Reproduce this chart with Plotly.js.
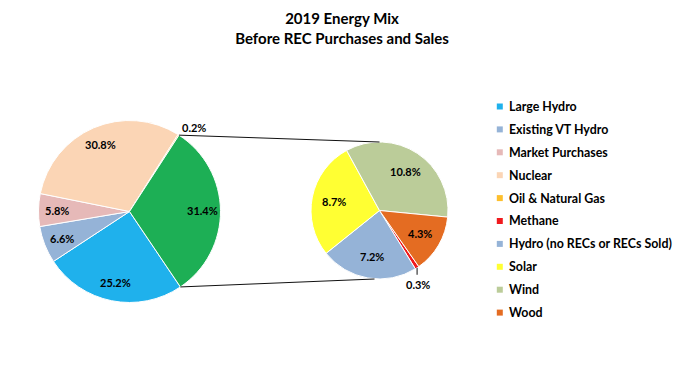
<!DOCTYPE html>
<html><head><meta charset="utf-8">
<script src="https://cdn.plot.ly/plotly-3.0.1.min.js"></script>
<style>html,body{margin:0;padding:0;background:#fff}</style>
</head><body>
<div id="chart" style="width:685px;height:371px"></div>
<script>
// ---- data ----
const mainLabels = ['Large Hydro','Existing VT Hydro','Market Purchases','Nuclear','Oil & Natural Gas','Other (see right)'];
const mainValues = [25.2, 6.6, 5.8, 30.8, 0.2, 31.4];
const mainColors = ['#1FB1EC','#95B3D7','#E6B9B8','#FBD5B5','#FDBF2D','#1DAF55'];
const subLabels = ['Methane','Hydro (no RECs or RECs Sold)','Solar','Wind','Wood'];
const subValues = [0.3, 7.2, 8.7, 10.8, 4.3];
const subColors = ['#F01A1E','#95B3D7','#FFFF33','#BBCC99','#E46C22'];
const legendLabels = mainLabels.slice(0,5).concat(subLabels);
const legendColors = mainColors.slice(0,5).concat(subColors);

// ---- geometry (pixels) ----
const W = 685, H = 371;
const P1 = {cx:129.5, cy:211.5, r:91, rot:146, lab:0.8};
const P2 = {cx:379.5, cy:210.5, r:68.5, rot:145, lab:0.68};
const px = x => x / W, py = y => 1 - y / H;
const dom = p => ({x:[px(p.cx - p.r), px(p.cx + p.r)], y:[py(p.cy + p.r), py(p.cy - p.r)]});
const sum = a => a.reduce((s, v) => s + v, 0);
function sliceAngle(vals, i, frac, rot) { // clockwise degrees from 12 o'clock
  const tot = sum(vals); let c = 0;
  for (let k = 0; k < i; k++) c += vals[k];
  return rot + (c + vals[i] * frac) / tot * 360;
}
function edgePt(p, ang, rr) {
  const a = ang * Math.PI / 180, r = rr === undefined ? p.r : rr;
  return [p.cx + r * Math.sin(a), p.cy - r * Math.cos(a)];
}
const fmt = v => v.toFixed(1) + '%';
const smallMain = 4, smallSub = 0; // tiny slices labelled outside

const labelFont = {family:'Lato', size:11, color:'#000', weight:'bold'};

const traces = [
  {type:'pie', labels:mainLabels, values:mainValues, sort:false, direction:'clockwise', rotation:P1.rot,
   marker:{colors:mainColors, line:{color:'#fff', width:1}}, textinfo:'none',
   domain:dom(P1), showlegend:false, hoverinfo:'label+value'},
  {type:'pie', labels:subLabels, values:subValues, sort:false, direction:'clockwise', rotation:P2.rot,
   marker:{colors:subColors, line:{color:'#fff', width:1}}, textinfo:'none',
   domain:dom(P2), showlegend:false, hoverinfo:'label+value'}
];

const shapes = [], annotations = [];
// data labels inside slices
function addLabels(p, vals, skip) {
  vals.forEach((v, i) => {
    if (i === skip) return;
    const pt = edgePt(p, sliceAngle(vals, i, 0.5, p.rot), p.r * p.lab);
    annotations.push({xref:'paper', yref:'paper', x:px(pt[0]), y:py(pt[1]), xanchor:'center', yanchor:'middle',
      text:fmt(v), showarrow:false, font:labelFont});
  });
}
addLabels(P1, mainValues, smallMain);
addLabels(P2, subValues, smallSub);

// connector lines from the "other" slice edges to the secondary pie
const gStart = edgePt(P1, sliceAngle(mainValues, 5, 0, P1.rot));
const gEnd = edgePt(P1, sliceAngle(mainValues, 5, 1, P1.rot));
const line = {color:'#111', width:1};
shapes.push({type:'line', xref:'paper', yref:'paper', x0:px(gStart[0]), y0:py(gStart[1]), x1:px(P2.cx), y1:py(P2.cy - P2.r), line});
shapes.push({type:'line', xref:'paper', yref:'paper', x0:px(gEnd[0]), y0:py(gEnd[1]), x1:px(P2.cx - 5), y1:py(P2.cy + P2.r), line});

// outside labels for tiny slices
const oilPt = edgePt(P1, sliceAngle(mainValues, smallMain, 0.5, P1.rot));
annotations.push({xref:'paper', yref:'paper', x:px(oilPt[0] + 1), y:py(oilPt[1] + 1), xanchor:'left', yanchor:'bottom',
  text:fmt(mainValues[smallMain]), showarrow:false, font:labelFont});
const mPt = edgePt(P2, sliceAngle(subValues, smallSub, 0.5, P2.rot));
shapes.push({type:'line', xref:'paper', yref:'paper', x0:px(mPt[0]), y0:py(mPt[1]), x1:px(mPt[0]), y1:py(mPt[1] + 7), line});
annotations.push({xref:'paper', yref:'paper', x:px(mPt[0] + 1), y:py(mPt[1] + 8), xanchor:'center', yanchor:'top',
  text:fmt(subValues[smallSub]), showarrow:false, font:labelFont});

// legend
const legX = 507, legY0 = 106.5, legDY = 22.9;
legendLabels.forEach((lab, i) => {
  const yc = legY0 + i * legDY;
  shapes.push({type:'rect', xref:'paper', yref:'paper', x0:px(496.8), x1:px(502.8), y0:py(yc + 3), y1:py(yc - 3),
    fillcolor:legendColors[i], line:{width:0}});
  annotations.push({xref:'paper', yref:'paper', x:px(legX), y:py(yc), xanchor:'left', yanchor:'middle',
    text:lab, showarrow:false, font:{family:'Lato', size:12.4, color:'#000', weight:'bold'}});
});

const layout = {
  width:W, height:H, margin:{l:0, r:0, t:0, b:0},
  paper_bgcolor:'#fff', plot_bgcolor:'#fff',
  title:{text:'2019 Energy Mix<br>Before REC Purchases and Sales', x:0.4993, xanchor:'center',
    y:0.935, yanchor:'top', yref:'container', font:{family:'Lato', size:15, color:'#000', weight:'bold'}},
  showlegend:false, shapes, annotations
};
Plotly.newPlot('chart', traces, layout, {displayModeBar:false, staticPlot:true});
</script>
</body></html>
